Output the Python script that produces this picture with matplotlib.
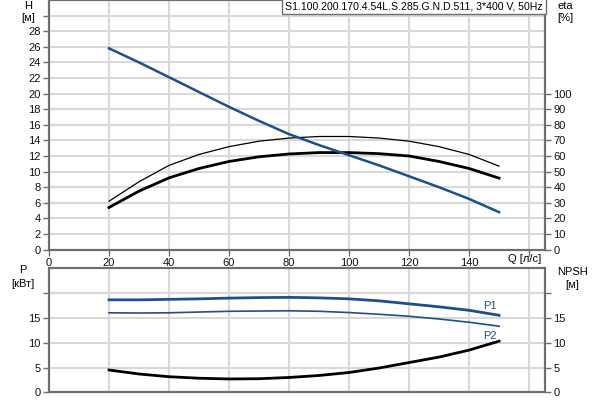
"""Pump curve chart: H / eta on top, P / NPSH below."""

import matplotlib
matplotlib.use("Agg")
import matplotlib.pyplot as plt

plt.rcParams['font.family'] = ['Liberation Sans', 'DejaVu Sans']

# flow rate, l/s
Q = [20, 30, 40, 50, 60, 70, 80, 90, 100, 110, 120, 130, 140, 150]

# head, m
H = [25.8, 24.0, 22.1, 20.2, 18.3, 16.5, 14.8, 13.4, 12.1, 10.8, 9.4, 8.0, 6.5, 4.8]

# efficiencies, %
eta_pump = [31, 43.5, 54, 61, 66, 69.5, 71.5, 72.5, 72.5, 71.5, 69.5, 66, 61, 53.5]
eta_total = [27, 37.5, 46, 52, 56.5, 59.5, 61.3, 62.2, 62.2, 61.5, 60, 56.5, 52, 45.8]

# power, kW
P1 = [18.6, 18.6, 18.7, 18.8, 18.95, 19.05, 19.1, 19.0, 18.8, 18.4, 17.8, 17.2, 16.5, 15.5]
P2 = [16.0, 15.95, 16.0, 16.15, 16.3, 16.35, 16.4, 16.3, 16.05, 15.7, 15.3, 14.75, 14.1, 13.3]

# NPSH, m
NPSH = [4.5, 3.7, 3.15, 2.85, 2.7, 2.75, 3.0, 3.4, 4.0, 4.9, 6.0, 7.1, 8.5, 10.3]

TITLE = "S1.100.200.170.4.54L.S.285.G.N.D.511, 3*400 V, 50Hz"

BLUE = '#1d4f8b'
GRID = '#d9d9d9'
SPINE = '#6e6e6e'
FS = 8


def style_axis(ax):
    for sp in ax.spines.values():
        sp.set_color(SPINE)
        sp.set_linewidth(1.5)
    ax.tick_params(colors=SPINE, labelcolor='#111111', labelsize=FS,
                   length=4, width=1, pad=2)


fig = plt.figure(figsize=(6, 4), dpi=100)

# ---- top: head + efficiency ----
ax1 = fig.add_axes([0.0817, 0.376, 0.8266, 0.624])
ax1.set_xlim(0, 165.3)
ax1.set_ylim(0, 32)
ax1.set_xticks(range(0, 161, 20))
ax1.set_xticklabels([str(v) for v in range(0, 141, 20)] + [''])
ax1.set_yticks(range(0, 31, 2))
ax1.set_yticklabels([str(v) for v in range(0, 29, 2)] + [''])
ax1.grid(True, color=GRID, linewidth=1.5)
ax1.set_axisbelow(True)
style_axis(ax1)

# efficiency on its own right-hand scale
ax1b = ax1.twinx()
ax1b.set_ylim(0, 160)
ax1b.set_yticks(range(0, 101, 10))
style_axis(ax1b)
ax1b.plot(Q, eta_pump, color='black', linewidth=0.9)
ax1b.plot(Q, eta_total, color='black', linewidth=2.0)

# head curve on top of everything, same scale as the left axis
ax1c = ax1.twinx()
ax1c.set_ylim(ax1.get_ylim())
ax1c.axis('off')
ax1c.plot(Q, H, color=BLUE, linewidth=1.8)

fig.text(28 / 600, 1 - 6 / 400, 'H', ha='center', va='center', fontsize=FS)
fig.text(28 / 600, 1 - 18 / 400, '[м]', ha='center', va='center', fontsize=FS)
fig.text(565 / 600, 1 - 6 / 400, 'eta', ha='center', va='center', fontsize=FS)
fig.text(565 / 600, 1 - 18 / 400, '[%]', ha='center', va='center', fontsize=FS)
fig.text(525 / 600, 1 - 259 / 400, 'Q [л/с]', ha='center', va='center', fontsize=FS)
ax1c.text(0.995, 0.995, TITLE, transform=ax1c.transAxes, ha='right', va='top',
          fontsize=7.6, zorder=10,
          bbox=dict(boxstyle='square,pad=0.3', facecolor='white', edgecolor=SPINE, linewidth=1))

# ---- bottom: power + NPSH ----
ax2 = fig.add_axes([0.0817, 0.019, 0.8266, 0.311])
ax2.set_xlim(0, 165.3)
ax2.set_ylim(0, 25)
ax2.set_xticks(range(0, 161, 20))
ax2.tick_params(axis='x', labelbottom=False)
ax2.set_yticks(range(0, 21, 5))
ax2.set_yticklabels(['0', '5', '10', '15', ''])
ax2.grid(True, color=GRID, linewidth=1.5)
ax2.set_axisbelow(True)
style_axis(ax2)
ax2.tick_params(axis='x', length=0)

ax2b = ax2.twinx()
ax2b.set_ylim(0, 25)
ax2b.set_yticks(range(0, 21, 5))
ax2b.set_yticklabels(['0', '5', '10', '15', ''])
style_axis(ax2b)

ax2.plot(Q, P1, color=BLUE, linewidth=2.0)
ax2.plot(Q, P2, color=BLUE, linewidth=1.2)
ax2b.plot(Q, NPSH, color='black', linewidth=2.0)
ax2.text(Q[-1] - 3, P1[-1] + 0.8, 'P1', color=BLUE, fontsize=FS, ha='center', va='bottom')
ax2.text(Q[-1] - 3, P2[-1] - 1.0, 'P2', color=BLUE, fontsize=FS, ha='center', va='top')

fig.text(23 / 600, 1 - 270 / 400, 'P', ha='center', va='center', fontsize=FS)
fig.text(23 / 600, 1 - 284 / 400, '[кВт]', ha='center', va='center', fontsize=FS)
fig.text(572 / 600, 1 - 272 / 400, 'NPSH', ha='center', va='center', fontsize=FS)
fig.text(572 / 600, 1 - 285 / 400, '[м]', ha='center', va='center', fontsize=FS)

fig.savefig('out.png', dpi=100)
plt.close(fig)
